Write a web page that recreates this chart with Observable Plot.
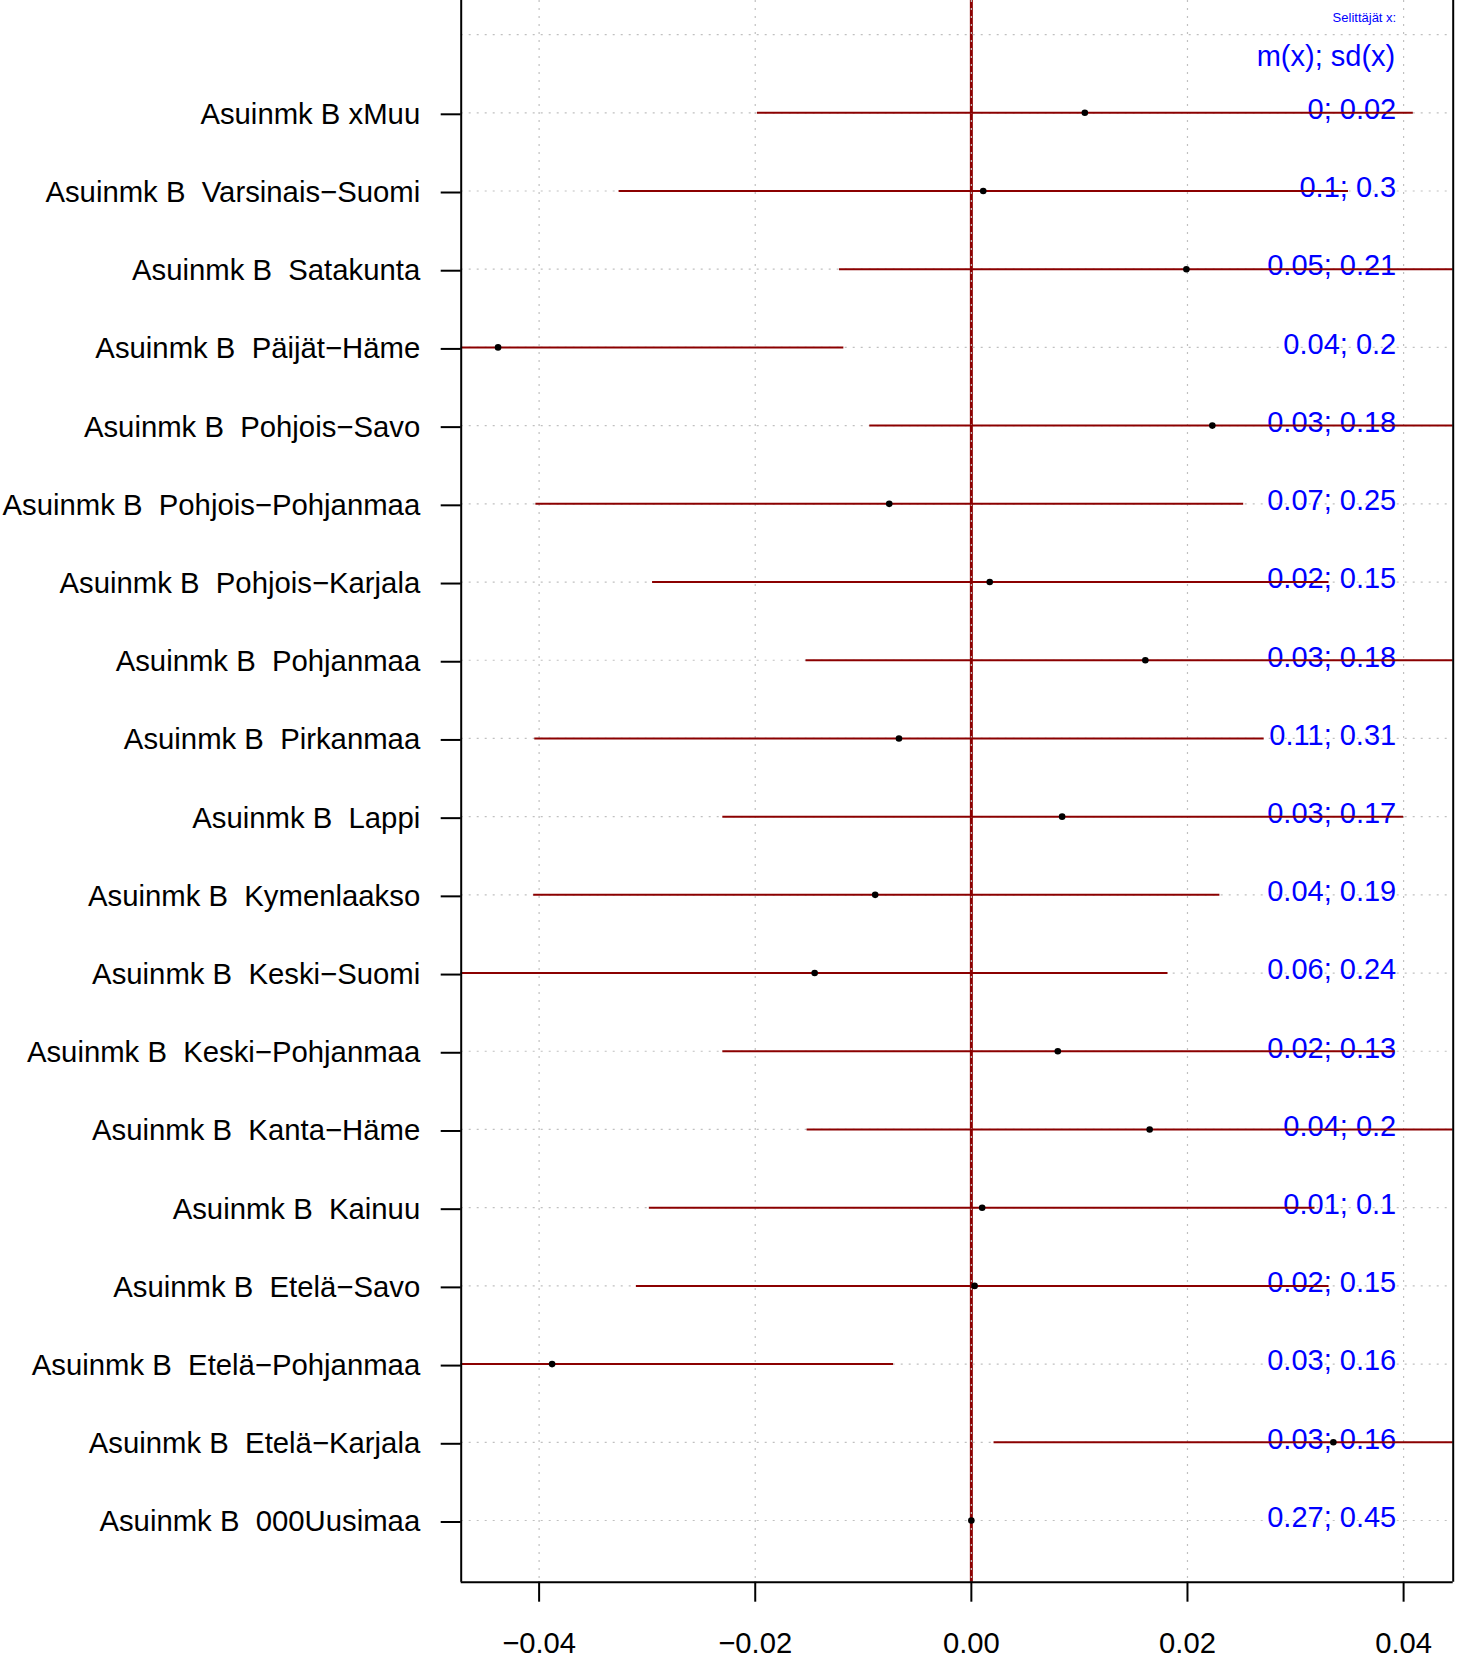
<!DOCTYPE html>
<html>
<head>
<meta charset="utf-8">
<script src="https://cdn.jsdelivr.net/npm/d3@7"></script>
<script src="https://cdn.jsdelivr.net/npm/@observablehq/plot@0.6"></script>
<style>
  html, body { margin: 0; padding: 0; background: white; }
  svg text { white-space: pre; }
</style>
</head>
<body>
<div id="chart"></div>
<script>
// ---- data (top to bottom) ----
const labels = [
  "Asuinmk B xMuu",
  "Asuinmk B  Varsinais\u2212Suomi",
  "Asuinmk B  Satakunta",
  "Asuinmk B  Päijät\u2212Häme",
  "Asuinmk B  Pohjois\u2212Savo",
  "Asuinmk B  Pohjois\u2212Pohjanmaa",
  "Asuinmk B  Pohjois\u2212Karjala",
  "Asuinmk B  Pohjanmaa",
  "Asuinmk B  Pirkanmaa",
  "Asuinmk B  Lappi",
  "Asuinmk B  Kymenlaakso",
  "Asuinmk B  Keski\u2212Suomi",
  "Asuinmk B  Keski\u2212Pohjanmaa",
  "Asuinmk B  Kanta\u2212Häme",
  "Asuinmk B  Kainuu",
  "Asuinmk B  Etelä\u2212Savo",
  "Asuinmk B  Etelä\u2212Pohjanmaa",
  "Asuinmk B  Etelä\u2212Karjala",
  "Asuinmk B  000Uusimaa"
];
const estimates = [0.0105, 0.0011, 0.0199, -0.0438, 0.0223, -0.0076, 0.0017, 0.0161, -0.0067, 0.0084,
                   -0.0089, -0.0145, 0.0080, 0.0165, 0.0010, 0.0003, -0.0388, 0.0335, 0];
const lower = [-0.0198, -0.0326, -0.0122, -0.0757, -0.0094, -0.0403, -0.0295, -0.0153, -0.0404, -0.0230,
               -0.0405, -0.0475, -0.0230, -0.0152, -0.0298, -0.0310, -0.0703, 0.0021, 0];
const upper = [0.0409, 0.0349, 0.0520, -0.0118, 0.0540, 0.0252, 0.0331, 0.0475, 0.0271, 0.0400,
               0.0230, 0.0182, 0.0392, 0.0483, 0.0318, 0.0331, -0.0072, 0.0650, 0];
const stats = ["0; 0.02", "0.1; 0.3", "0.05; 0.21", "0.04; 0.2", "0.03; 0.18", "0.07; 0.25", "0.02; 0.15",
               "0.03; 0.18", "0.11; 0.31", "0.03; 0.17", "0.04; 0.19", "0.06; 0.24", "0.02; 0.13",
               "0.04; 0.2", "0.01; 0.1", "0.02; 0.15", "0.03; 0.16", "0.03; 0.16", "0.27; 0.45"];
const xTicks = [-0.04, -0.02, 0, 0.02, 0.04];
const headerTitle = "Selittäjät x:";
const headerSub = "m(x); sd(x)";

// ---- build table ----
const n = labels.length;
const rows = labels.map((label, i) => ({
  label, pos: n - i, est: estimates[i], lo: lower[i], hi: upper[i], stat: stats[i]
}));
const ciRows = rows.filter(d => d.lo !== d.hi);
const gridRows = rows.map(d => d.pos).concat([n + 1]);
const labelByPos = new Map(rows.map(d => [d.pos, d.label]));

const font = "'Liberation Sans', Arial, Helvetica, sans-serif";
const darkred = "#8B0000";
const gridCol = "#c0c0c0";

const chart = Plot.plot({
  width: 1463,
  height: 1656,
  marginLeft: 460.7,
  marginRight: 10.3,
  marginTop: 0,
  marginBottom: 74.3,
  style: { fontFamily: font, background: "white", overflow: "visible" },
  x: { domain: [-0.04721, 0.04459] },
  y: { domain: [0.211, n + 1.436] },
  marks: [
    Plot.ruleX([0], { stroke: darkred, strokeWidth: 3 }),
    Plot.ruleX(xTicks, { stroke: gridCol, strokeWidth: 1.2, strokeDasharray: "2,6" }),
    Plot.ruleY(gridRows, { stroke: gridCol, strokeWidth: 1.2, strokeDasharray: "2,6" }),
    Plot.text(rows, { y: "pos", text: "stat", frameAnchor: "right", dx: -57, dy: -3,
      textAnchor: "end", fill: "#0000FF", fontSize: 29 }),
    Plot.text([headerSub], { y: n + 0.72, text: d => d, frameAnchor: "right", dx: -58,
      textAnchor: "end", fill: "#0000FF", fontSize: 29 }),
    Plot.text([headerTitle], { y: n + 1.22, text: d => d, frameAnchor: "right", dx: -57,
      textAnchor: "end", fill: "#0000FF", fontSize: 13 }),
    Plot.ruleY(ciRows, { y: "pos", x1: "lo", x2: "hi", stroke: darkred, strokeWidth: 2, clip: true }),
    Plot.dot(rows, { x: "est", y: "pos", r: 3.3, fill: "black", stroke: "none" }),
    Plot.ruleX([-0.04721, 0.04459], { stroke: "black", strokeWidth: 2 }),
    Plot.ruleY([0.211], { stroke: "black", strokeWidth: 2 }),
    Plot.axisX(xTicks, { tickSize: 20, tickPadding: 30, tickFormat: d3.format(".2f"),
      fontSize: 29.2, strokeWidth: 2, label: null, fill: "black" }),
    Plot.axisY(rows.map(d => d.pos), { tickSize: 20, tickPadding: 21, tickFormat: d => labelByPos.get(d),
      fontSize: 29.3, strokeWidth: 2, label: null, dy: 1.5, fill: "black" })
  ]
});
document.getElementById("chart").appendChild(chart);
</script>
</body>
</html>
